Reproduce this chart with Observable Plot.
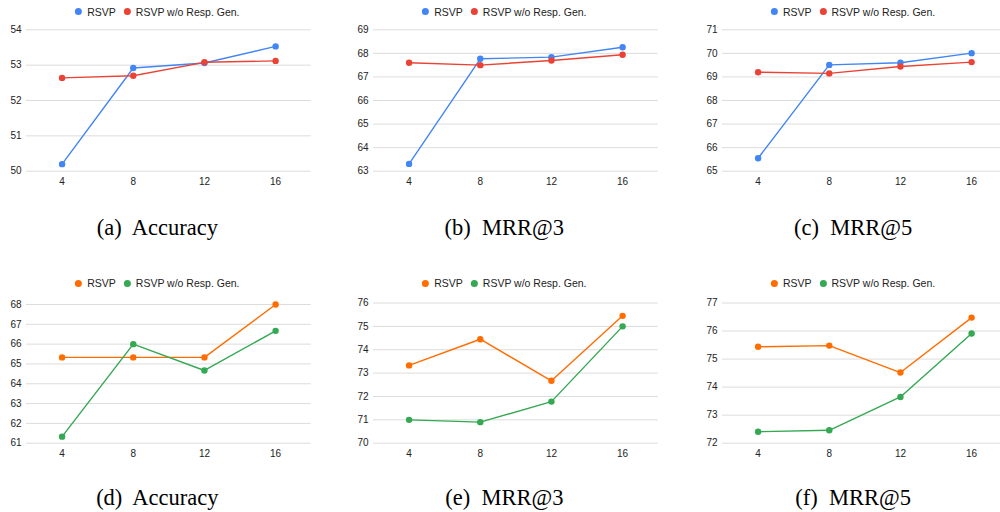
<!DOCTYPE html>
<html>
<head>
<meta charset="utf-8">
<script src="https://cdn.jsdelivr.net/npm/d3@7"></script>
<script src="https://cdn.jsdelivr.net/npm/@observablehq/plot@0.6"></script>
<style>
  html, body { margin: 0; padding: 0; background: #fff; width: 1000px; height: 512px; overflow: hidden; }
  #root { position: relative; width: 1000px; height: 512px; overflow: hidden; }
  .panel { position: absolute; }
  .panel svg { max-width: none !important; display: block; }
  .legend { position: absolute; display: flex; align-items: center; white-space: nowrap;
    font-family: "Liberation Sans", Arial, sans-serif; font-size: 10.5px; color: #222; transform: translateX(-50%); line-height: 12px; }
  .legend .sw { display: inline-block; width: 7px; height: 7px; border-radius: 50%; margin-right: 5px; }
  .legend .item { display: flex; align-items: center; margin-right: 8px; }
  .legend .item:last-child { margin-right: 0; }
  .caption { position: absolute; transform: translateX(-50%); white-space: pre;
    font-family: "Liberation Serif", "Times New Roman", serif; font-size: 22.5px; line-height: 22px; color: #000; }
</style>
</head>
<body>
<div id="root"></div>
<script>
// ---- data ----
const xTicks = [4, 8, 12, 16];
const seriesNames = ["RSVP", "RSVP w/o Resp. Gen."];

// top row (blue / red)
const accTopRSVP   = [50.20, 52.92, 53.06, 53.53];
const accTopWo     = [52.64, 52.70, 53.08, 53.12];
const mrr3TopRSVP  = [63.31, 67.77, 67.84, 68.26];
const mrr3TopWo    = [67.60, 67.50, 67.70, 67.94];
const mrr5TopRSVP  = [65.55, 69.51, 69.60, 70.01];
const mrr5TopWo    = [69.20, 69.15, 69.44, 69.63];

// bottom row (orange / green)
const accBotRSVP   = [65.33, 65.33, 65.33, 68.00];
const accBotWo     = [61.33, 66.00, 64.67, 66.67];
const mrr3BotRSVP  = [73.33, 74.45, 72.67, 75.45];
const mrr3BotWo    = [71.00, 70.90, 71.78, 75.00];
const mrr5BotRSVP  = [75.44, 75.48, 74.52, 76.48];
const mrr5BotWo    = [72.41, 72.46, 73.65, 75.91];

const yTicksA = [50, 51, 52, 53, 54];
const yTicksB = [63, 64, 65, 66, 67, 68, 69];
const yTicksC = [65, 66, 67, 68, 69, 70, 71];
const yTicksD = [61, 62, 63, 64, 65, 66, 67, 68];
const yTicksE = [70, 71, 72, 73, 74, 75, 76];
const yTicksF = [72, 73, 74, 75, 76, 77];

const captions = ["(a)  Accuracy", "(b)  MRR@3", "(c)  MRR@5", "(d)  Accuracy", "(e)  MRR@3", "(f)  MRR@5"];

const colorsTop = ["#4285F4", "#EA4335"];
const colorsBot = ["#FF6D01", "#34A853"];

// ---- layout ----
const plotW = 284.7;
const ML = 30, MR = 10.3;
const W = ML + plotW + MR;
const panels = [
  {a: accTopRSVP,  b: accTopWo,  yt: yTicksA, cap: captions[0], colors: colorsTop, plotLeft: 26,    top: 0,   gTop: 29.3,  gBot: 170.7, legY: 11.7,  capTop: 216.6},
  {a: mrr3TopRSVP, b: mrr3TopWo, yt: yTicksB, cap: captions[1], colors: colorsTop, plotLeft: 373,   top: 0,   gTop: 29.3,  gBot: 170.7, legY: 11.7,  capTop: 216.6},
  {a: mrr5TopRSVP, b: mrr5TopWo, yt: yTicksC, cap: captions[2], colors: colorsTop, plotLeft: 721.7, top: 0,   gTop: 29.3,  gBot: 170.7, legY: 11.7,  capTop: 216.6},
  {a: accBotRSVP,  b: accBotWo,  yt: yTicksD, cap: captions[3], colors: colorsBot, plotLeft: 26,    top: 260, gTop: 304.0, gBot: 442.7, legY: 283.3, capTop: 486.6},
  {a: mrr3BotRSVP, b: mrr3BotWo, yt: yTicksE, cap: captions[4], colors: colorsBot, plotLeft: 373,   top: 260, gTop: 302.5, gBot: 442.7, legY: 283.3, capTop: 486.6},
  {a: mrr5BotRSVP, b: mrr5BotWo, yt: yTicksF, cap: captions[5], colors: colorsBot, plotLeft: 721.7, top: 260, gTop: 302.5, gBot: 442.7, legY: 283.3, capTop: 486.6},
];

const root = document.getElementById("root");

for (const p of panels) {
  const data = [];
  xTicks.forEach((x, i) => data.push({x, y: p.a[i], s: seriesNames[0]}));
  xTicks.forEach((x, i) => data.push({x, y: p.b[i], s: seriesNames[1]}));
  const H = 200;
  const mt = p.gTop - p.top;
  const mb = H - (p.gBot - p.top);
  const chart = Plot.plot({
    width: W,
    height: H,
    marginLeft: ML,
    marginRight: MR,
    marginTop: mt,
    marginBottom: mb,
    style: {fontFamily: "'Liberation Sans', Arial, sans-serif", fontSize: "10px", color: "#222", background: "transparent", overflow: "visible"},
    x: {domain: [2, 18], ticks: xTicks, tickSize: 0, tickPadding: 7, label: null},
    y: {domain: [p.yt[0], p.yt[p.yt.length - 1]], ticks: p.yt, tickSize: 0, tickPadding: 5, label: null},
    color: {domain: seriesNames, range: p.colors},
    marks: [
      Plot.gridY(p.yt, {stroke: "#dcdcdc", strokeOpacity: 1, strokeWidth: 1}),
      Plot.axisX({ticks: xTicks, tickSize: 0, tickPadding: 7, fill: "#222", label: null, tickFormat: "d"}),
      Plot.axisY({ticks: p.yt, tickSize: 0, tickPadding: 5, fill: "#222", label: null, tickFormat: "d"}),
      Plot.line(data, {x: "x", y: "y", stroke: "s", strokeWidth: 1.4, z: "s"}),
      Plot.dot(data, {x: "x", y: "y", fill: "s", r: 3.2})
    ]
  });
  const wrap = document.createElement("div");
  wrap.className = "panel";
  wrap.style.left = (p.plotLeft - ML) + "px";
  wrap.style.top = p.top + "px";
  wrap.style.width = W + "px";
  wrap.style.height = H + "px";
  wrap.appendChild(chart);
  root.appendChild(wrap);

  const center = p.plotLeft + plotW / 2 - 11;

  const leg = document.createElement("div");
  leg.className = "legend";
  leg.style.left = center + "px";
  leg.style.top = (p.legY - 6) + "px";
  seriesNames.forEach((name, i) => {
    const it = document.createElement("span");
    it.className = "item";
    const sw = document.createElement("span");
    sw.className = "sw";
    sw.style.background = p.colors[i];
    it.appendChild(sw);
    it.appendChild(document.createTextNode(name));
    leg.appendChild(it);
  });
  root.appendChild(leg);

  const cap = document.createElement("div");
  cap.className = "caption";
  cap.style.left = center + "px";
  cap.style.top = p.capTop + "px";
  cap.textContent = p.cap;
  root.appendChild(cap);
}
</script>
</body>
</html>
